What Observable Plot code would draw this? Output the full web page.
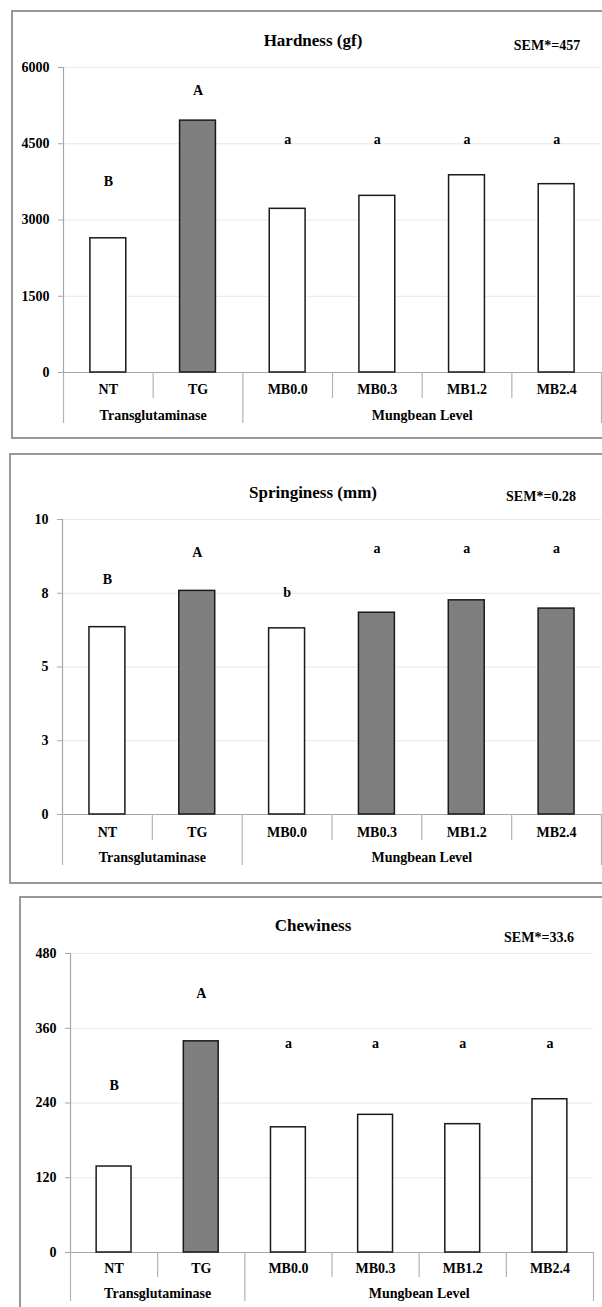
<!DOCTYPE html>
<html><head><meta charset="utf-8">
<script src="https://cdn.jsdelivr.net/npm/d3@7"></script>
<script src="https://cdn.jsdelivr.net/npm/@observablehq/plot@0.6"></script>
<style>
body{margin:0;background:#fff;width:602px;height:1307px;overflow:hidden;position:relative;font-family:"Liberation Serif","Times New Roman",serif;}
.box{position:absolute;border:2px solid #999;box-sizing:border-box;}
.t{position:absolute;font-weight:bold;white-space:nowrap;transform:translate(-50%,-50%);color:#000;}
.panel{position:absolute;left:0;}
.panel svg{overflow:visible;}
</style></head><body>
<script>
// ---- data ----
const categories = ["NT", "TG", "MB0.0", "MB0.3", "MB1.2", "MB2.4"];
const groups = ["Transglutaminase", "Mungbean Level"];
const groupStart = [0, 2];
const groupEnd = [2, 6];

const hardness = [2640, 4955, 3220, 3475, 3880, 3705];
const hardnessShaded = [false, true, false, false, false, false];
const hardnessLetters = ["B", "A", "a", "a", "a", "a"];
const hardnessLetterAt = [3760, 5540, 4580, 4580, 4580, 4580];
const hardnessTicks = [0, 1500, 3000, 4500, 6000];

const springiness = [6.35, 7.58, 6.31, 6.84, 7.26, 6.98];
const springinessShaded = [false, true, false, true, true, true];
const springinessLetters = ["B", "A", "b", "a", "a", "a"];
const springinessLetterAt = [7.98, 8.88, 7.51, 9.0, 9.0, 9.0];
const springinessTicks = [0, 2.5, 5, 7.5, 10];

const chewiness = [138, 339, 201, 221, 206, 246];
const chewinessShaded = [false, true, false, false, false, false];
const chewinessLetters = ["B", "A", "a", "a", "a", "a"];
const chewinessLetterAt = [268, 416, 336, 336, 336, 336];
const chewinessTicks = [0, 120, 240, 360, 480];

const titles = ["Hardness (gf)", "Springiness (mm)", "Chewiness"];
const sems = ["SEM*=457", "SEM*=0.28", "SEM*=33.6"];

// ---- layout ----
const panels = [
  {values: hardness, shaded: hardnessShaded, letters: hardnessLetters, letterAt: hardnessLetterAt, ticks: hardnessTicks, fmt: d => String(d),
   top: 0, height: 440, ml: 63, mr: 1, mt: 67, mb: 68, catDy: 17, grpDy: 43, catSep: 26, grpSep: 51,
   box: {left: 11, top: 10, width: 620, height: 429},
   title: {x: 313, y: 41}, sem: {x: 547, y: 46}},
  {values: springiness, shaded: springinessShaded, letters: springinessLetters, letterAt: springinessLetterAt, ticks: springinessTicks, fmt: d => String(Math.round(d)),
   top: 440, height: 445, ml: 62, mr: 1, mt: 79, mb: 71, catDy: 18, grpDy: 43, catSep: 26, grpSep: 51,
   box: {left: 9, top: 453, width: 620, height: 431},
   title: {x: 313, y: 493}, sem: {x: 541, y: 497}},
  {values: chewiness, shaded: chewinessShaded, letters: chewinessLetters, letterAt: chewinessLetterAt, ticks: chewinessTicks, fmt: d => String(d),
   top: 885, height: 422, ml: 70, mr: 9, mt: 68, mb: 55, catDy: 16, grpDy: 41, catSep: 25, grpSep: 49,
   box: {left: 19, top: 896, width: 620, height: 440},
   title: {x: 313, y: 926}, sem: {x: 539, y: 938}}
];

panels.forEach((p, k) => {
  const box = document.createElement("div");
  box.className = "box";
  Object.assign(box.style, {left: p.box.left + "px", top: p.box.top + "px", width: p.box.width + "px", height: p.box.height + "px"});
  document.body.appendChild(box);

  const rows = categories.map((c, i) => ({c, i, v: p.values[i], shaded: p.shaded[i], letter: p.letters[i], lp: p.letterAt[i]}));
  const grows = groups.map((g, j) => ({g, mid: (groupStart[j] + groupEnd[j]) / 2}));
  const ymax = p.ticks[p.ticks.length - 1];
  const groupSeps = [0, ...groupEnd];
  const catSeps = d3.range(1, categories.length).filter(s => !groupEnd.includes(s));

  const chart = Plot.plot({
    width: 602, height: p.height,
    marginLeft: p.ml, marginRight: p.mr, marginTop: p.mt, marginBottom: p.mb,
    style: {fontFamily: "'Liberation Serif','Times New Roman',serif", fontWeight: "bold", fontSize: "14px", background: "none", overflow: "visible", color: "#000"},
    x: {type: "linear", domain: [0, categories.length], axis: null},
    y: {domain: [0, ymax], axis: null},
    color: {domain: [false, true], range: ["#ffffff", "#7f7f7f"]},
    marks: [
      Plot.gridY(p.ticks.filter(t => t > 0), {stroke: "#e8e8e8", strokeOpacity: 1}),
      Plot.ruleY([0], {stroke: "#a6a6a6", strokeWidth: 1.2}),
      Plot.ruleX([0], {stroke: "#a6a6a6", strokeWidth: 1.2}),
      Plot.ruleX(groupSeps, {y: 0, insetBottom: -p.grpSep, stroke: "#b3b3b3", strokeWidth: 1.2}),
      Plot.ruleX(catSeps, {y: 0, insetBottom: -p.catSep, stroke: "#b3b3b3", strokeWidth: 1.2}),
      Plot.axisY({ticks: p.ticks, tickFormat: p.fmt, tickSize: 5, tickPadding: 9, stroke: "#a6a6a6", fill: "#000", label: null}),
      Plot.rectY(rows, {x1: d => d.i + 0.3, x2: d => d.i + 0.7, y: "v", fill: "shaded", stroke: "#1a1a1a", strokeWidth: 1.5}),
      Plot.text(rows, {x: d => d.i + 0.5, y: "lp", text: "letter", fill: "#000"}),
      Plot.text(rows, {x: d => d.i + 0.5, y: 0, text: "c", dy: p.catDy, fill: "#000"}),
      Plot.text(grows, {x: "mid", y: 0, text: "g", dy: p.grpDy, fill: "#000"})
    ]
  });
  const wrap = document.createElement("div");
  wrap.className = "panel";
  wrap.style.top = p.top + "px";
  wrap.appendChild(chart);
  document.body.appendChild(wrap);

  const t = document.createElement("div");
  t.className = "t";
  t.textContent = titles[k];
  Object.assign(t.style, {left: p.title.x + "px", top: p.title.y + "px", fontSize: "17px"});
  document.body.appendChild(t);
  const s = document.createElement("div");
  s.className = "t";
  s.textContent = sems[k];
  Object.assign(s.style, {left: p.sem.x + "px", top: p.sem.y + "px", fontSize: "14px"});
  document.body.appendChild(s);
});
</script>
</body></html>
